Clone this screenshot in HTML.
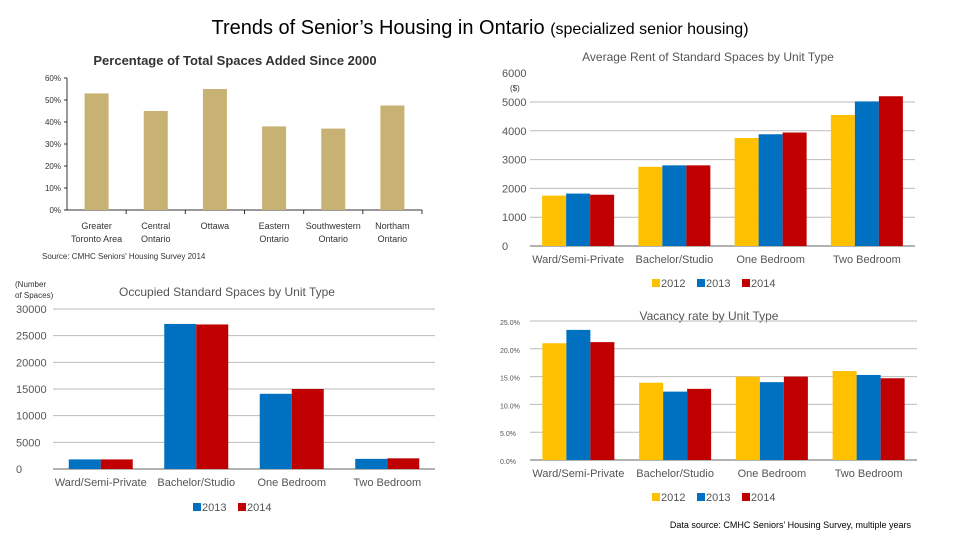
<!DOCTYPE html>
<html><head><meta charset="utf-8"><style>
body{margin:0;background:#fff;}
svg{display:block;font-family:"Liberation Sans",sans-serif;}
</style></head><body>
<svg id="s" width="960" height="540" viewBox="0 0 960 540">
<text x="480" y="34" text-anchor="middle" font-size="20" fill="#000">Trends of Senior’s Housing in Ontario <tspan font-size="16">(specialized senior housing)</tspan></text>
<text x="235" y="65" text-anchor="middle" font-size="13" font-weight="bold" fill="#333">Percentage of Total Spaces Added Since 2000</text>
<text x="42" y="259" font-size="8" fill="#333">Source: CMHC Seniors' Housing Survey 2014</text>
<text x="708" y="61" text-anchor="middle" font-size="12" fill="#555">Average Rent of Standard Spaces by Unit Type</text>
<text x="510" y="91" font-size="8" fill="#333">($)</text>
<text x="227" y="296" text-anchor="middle" font-size="12" fill="#555">Occupied Standard Spaces by Unit Type</text>
<text x="15" y="287" font-size="8" fill="#333">(Number</text>
<text x="15" y="298" font-size="8" fill="#333">of Spaces)</text>
<text x="709" y="320" text-anchor="middle" font-size="12" fill="#555">Vacancy rate by Unit Type</text>
<text x="911" y="528" text-anchor="end" font-size="9" fill="#000">Data source: CMHC Seniors’ Housing Survey, multiple years</text>
</svg>
<script>
const regions=["Greater|Toronto Area","Central|Ontario","Ottawa","Eastern|Ontario","Southwestern|Ontario","Northam|Ontario"];
const pctValues=[53,45,55,38,37,47.5];
const pctTicks=["0%","10%","20%","30%","40%","50%","60%"];
const unitTypes=["Ward/Semi-Private","Bachelor/Studio","One Bedroom","Two Bedroom"];
const rent2012=[1750,2750,3750,4550];
const rent2013=[1820,2800,3880,5020];
const rent2014=[1780,2800,3940,5200];
const rentTicks=[0,1000,2000,3000,4000,5000,6000];
const occ2013=[1800,27200,14100,1900];
const occ2014=[1800,27100,15000,2000];
const occTicks=[0,5000,10000,15000,20000,25000,30000];
const vac2012=[21,13.9,15,16];
const vac2013=[23.4,12.3,14,15.3];
const vac2014=[21.2,12.8,15,14.7];
const vacTicks=["0.0%","5.0%","10.0%","15.0%","20.0%","25.0%"];
const YEL="#FFC000",BLU="#0070C0",RED="#C00000",GOLD="#C8B273";
const svg=document.getElementById('s');
const NS="http://www.w3.org/2000/svg";
function el(t,a,txt){const e=document.createElementNS(NS,t);for(const k in a)e.setAttribute(k,a[k]);if(txt!==undefined)e.textContent=txt;svg.appendChild(e);return e;}
function yScale(y0,y1,max){return v=>y0-(v/max)*(y0-y1);}

// Chart 1
(function(){
 const x0=67,x1=422,y0=210,y1=78,max=60,y=yScale(y0,y1,max);
 const bw=(x1-x0)/regions.length;
 pctTicks.forEach((t,i)=>{const v=i*10;
  const e=el('text',{x:61,y:y(v)+3,'text-anchor':'end','font-size':8,fill:'#333'},t);
  
  const l=el('line',{x1:x0-3,x2:x0,y1:y(v),y2:y(v),stroke:'#333'});
  });
 let a=el('line',{x1:x0,x2:x0,y1:y1,y2:y0,stroke:'#333'});
 a=el('line',{x1:x0,x2:x1,y1:y0,y2:y0,stroke:'#333'});
 regions.forEach((r,i)=>{const cx=x0+bw*(i+.5);
  const b=el('rect',{x:cx-12,y:y(pctValues[i]),width:24,height:y0-y(pctValues[i]),fill:GOLD});
  
  const tk=el('line',{x1:x0+bw*(i+1),x2:x0+bw*(i+1),y1:y0,y2:y0+4,stroke:'#333'});
  
  r.split('|').forEach((p,j)=>{const t=el('text',{x:cx,y:229+j*13,'text-anchor':'middle','font-size':9,fill:'#333'},p);
   });
 });
})();

function grouped(o){
 const y=yScale(o.y0,o.y1,o.max);const gw=(o.x1-o.x0)/unitTypes.length;const n=o.series.length;
 o.ticks.forEach((t,i)=>{const v=o.tickVals[i];
  const e=el('text',{x:o.lx,y:y(v)+4,'text-anchor':o.anchor,'font-size':o.tfs,fill:'#555'},t);
  
  if(v>0&&(o.gridTop||v<o.max)){const g=el('line',{x1:o.x0,x2:o.x1,y1:y(v),y2:y(v),stroke:'#bbb'});
   }});
 const ax=el('line',{x1:o.x0,x2:o.x1,y1:o.y0,y2:o.y0,stroke:'#999','stroke-width':1.5});
 
 unitTypes.forEach((u,i)=>{const cx=o.x0+gw*(i+.5);const st=cx-n*o.bw/2;
  o.series.forEach((s,k)=>{const v=s[i];
   const b=el('rect',{x:st+k*o.bw,y:y(v),width:o.bw,height:o.y0-y(v),fill:o.colors[k]});
   });
  const t=el('text',{x:cx,y:o.y0+17,'text-anchor':'middle','font-size':11,fill:'#555'},u);
  });
 let lx=o.legX;o.years.forEach((yr,k)=>{
  const r=el('rect',{x:lx,y:o.legY-8,width:8,height:8,fill:o.colors[k]});
  
  const t=el('text',{x:lx+9,y:o.legY,'font-size':11,fill:'#555'},yr);
  lx+=45;});
}
grouped({p:'rent',x0:530,x1:915,y0:246,y1:73.2,max:6000,ticks:rentTicks.map(String),tickVals:rentTicks,lx:502,anchor:'start',tfs:11,bw:24,
 series:[rent2012,rent2013,rent2014],colors:[YEL,BLU,RED],years:["2012","2013","2014"],legX:652,legY:287,gridTop:false});
grouped({p:'occupied',x0:53,x1:435,y0:469,y1:309,max:30000,ticks:occTicks.map(String),tickVals:occTicks,lx:16,anchor:'start',tfs:11,bw:32,
 series:[occ2013,occ2014],colors:[BLU,RED],years:["2013","2014"],legX:193,legY:511,gridTop:true});
grouped({p:'vacancy',x0:530,x1:917,y0:460,y1:321,max:25,ticks:vacTicks,tickVals:[0,5,10,15,20,25],lx:500,anchor:'start',tfs:7,bw:24,
 series:[vac2012,vac2013,vac2014],colors:[YEL,BLU,RED],years:["2012","2013","2014"],legX:652,legY:501,gridTop:true});
</script>
</body></html>
